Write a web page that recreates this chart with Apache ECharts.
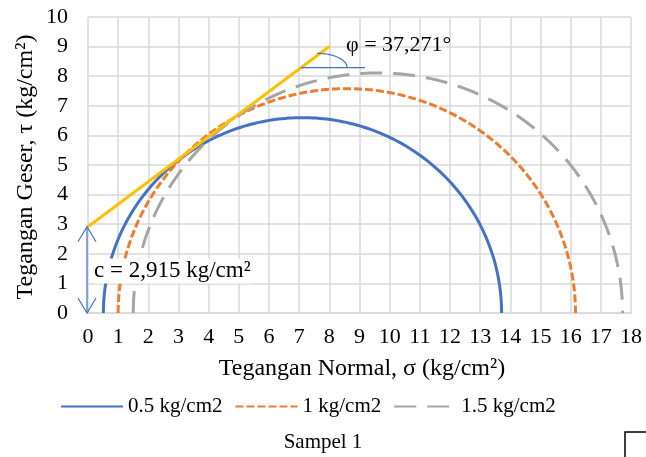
<!DOCTYPE html>
<html><head><meta charset="utf-8">
<script src="https://cdn.jsdelivr.net/npm/echarts@6/dist/echarts.min.js"></script>
<style>html,body{margin:0;padding:0;background:#fff}#c{width:646px;height:457px}</style>
</head><body><div id="c"></div>
<script>
// Mohr circles: minor and major principal stresses (kg/cm2)
const seriesNames = ['0.5 kg/cm2', '1 kg/cm2', '1.5 kg/cm2'];
const sigma3 = [0.51, 1.00, 1.50];
const sigma1 = [13.71, 16.16, 17.72];
// Failure envelope
const cohesion = 2.915;
const phiDeg = 37.271;
const envelopeX = [0, 8];
const xTicks = [0,1,2,3,4,5,6,7,8,9,10,11,12,13,14,15,16,17,18];
const yTicks = [0,1,2,3,4,5,6,7,8,9,10];

const colors = ['#4472C4', '#ED7D31', '#A5A5A5'];
const dashes = ['solid', [8, 3], [22, 11]];
const FONT = '"Liberation Serif", "Times New Roman", serif';

function circlePoints(s3, s1) {
  const c = (s1 + s3) / 2, r = (s1 - s3) / 2, pts = [];
  for (let i = 0; i <= 360; i++) {
    const t = Math.PI - Math.PI * i / 360;
    pts.push([c + r * Math.cos(t), r * Math.sin(t)]);
  }
  return pts;
}
const tanPhi = Math.tan(phiDeg * Math.PI / 180);
const envelope = envelopeX.map(x => [x, cohesion + tanPhi * x]);

const chart = echarts.init(document.getElementById('c'), null, {renderer: 'canvas'});

const series = seriesNames.map((n, i) => ({
  name: n, type: 'line', data: circlePoints(sigma3[i], sigma1[i]),
  showSymbol: false, symbol: 'none', smooth: false, z: 3 + i,
  lineStyle: {color: colors[i], width: 3, type: dashes[i]},
  itemStyle: {color: colors[i]}, animation: false
}));
series.push({
  name: 'envelope', type: 'line', data: envelope, showSymbol: false, symbol: 'none',
  lineStyle: {color: '#FFC000', width: 3}, itemStyle: {color: '#FFC000'}, z: 6, animation: false
});
// annotations: cohesion arrow and phi arc
series.push({
  type: 'custom', z: 7, animation: false, data: [[0]],
  renderItem: function (params, api) {
    const p0 = api.coord([0, 0]), pc = api.coord([0, cohesion]);
    const x = p0[0] - 1;
    const blue = '#4472C4';
    const st = {stroke: blue, lineWidth: 1.2, fill: null};
    const yA = 8.29;
    const xA = (yA - cohesion) / tanPhi;
    const pa = api.coord([xA, yA]);
    const pe = api.coord([9.18, yA]);
    const cx = pa[0] + 16, cy = pa[1];
    const arcPts = [];
    for (let i = 0; i <= 30; i++) {
      const t = -Math.PI / 2 + (Math.PI / 2) * i / 30;
      arcPts.push([cx + 30 * Math.cos(t), cy + 14.3 * Math.sin(t)]);
    }
    return {type: 'group', children: [
      {type: 'line', shape: {x1: x, y1: p0[1], x2: x, y2: pc[1]}, style: st},
      {type: 'polyline', shape: {points: [[x - 9, pc[1] + 15], [x, pc[1]], [x + 9, pc[1] + 15]]}, style: st},
      {type: 'polyline', shape: {points: [[x - 9, p0[1] - 15], [x, p0[1]], [x + 9, p0[1] - 15]]}, style: st},
      {type: 'line', shape: {x1: pa[0], y1: pa[1], x2: pe[0], y2: pe[1]}, style: st},
      {type: 'polyline', shape: {points: arcPts}, style: st}
    ]};
  }
});

chart.setOption({
  backgroundColor: '#fff',
  animation: false,
  grid: {left: 88, right: 15, top: 17, bottom: 144, containLabel: false},
  xAxis: {
    type: 'value', min: xTicks[0], max: xTicks[xTicks.length - 1], interval: 1,
    axisLine: {show: true, lineStyle: {color: '#d9d9d9', width: 1.5}},
    axisTick: {show: false},
    splitLine: {show: true, lineStyle: {color: '#d9d9d9', width: 1.5}},
    axisLabel: {color: '#000', fontFamily: FONT, fontSize: 22, margin: 13,
      formatter: v => xTicks.includes(v) ? String(v) : ''}
  },
  yAxis: {
    type: 'value', min: yTicks[0], max: yTicks[yTicks.length - 1], interval: 1,
    axisLine: {show: false}, axisTick: {show: false},
    splitLine: {show: true, lineStyle: {color: '#d9d9d9', width: 1.5}},
    axisLabel: {color: '#000', fontFamily: FONT, fontSize: 22, margin: 20,
      formatter: v => yTicks.includes(v) ? String(v) : ''}
  },
  legend: {
    top: 391, left: 55, itemWidth: 62, itemHeight: 14, itemGap: 12,
    data: seriesNames,
    itemStyle: {opacity: 0},
    textStyle: {color: '#000', fontFamily: FONT, fontSize: 21}
  },
  graphic: [
    {type: 'text', x: 26, y: 167, rotation: Math.PI / 2, style: {
      text: 'Tegangan Geser, τ (kg/cm²)', font: '24px ' + FONT, fill: '#000',
      align: 'center', verticalAlign: 'middle'}},
    {type: 'text', x: 362, y: 369, style: {
      text: 'Tegangan Normal, σ (kg/cm²)', font: '24px ' + FONT, fill: '#000',
      align: 'center', verticalAlign: 'middle'}},
    {type: 'text', x: 323, y: 442, style: {
      text: 'Sampel 1', font: '21px ' + FONT, fill: '#000',
      align: 'center', verticalAlign: 'middle'}},
    {type: 'text', x: 346, y: 45, z: 10, style: {
      text: 'φ = 37,271°', font: '22px ' + FONT, fill: '#000',
      align: 'left', verticalAlign: 'middle'}},
    {type: 'text', x: 92, y: 271, z: 10, style: {
      text: 'c = 2,915 kg/cm²', font: '23px ' + FONT, fill: '#000',
      align: 'left', verticalAlign: 'middle', backgroundColor: '#fff', padding: [1, 2, 1, 2]}},
    {type: 'polyline', shape: {points: [[646, 432], [625, 432], [625, 457]]},
      style: {stroke: '#000', lineWidth: 1.5, fill: null}}
  ],
  series: series
});
</script></body></html>
